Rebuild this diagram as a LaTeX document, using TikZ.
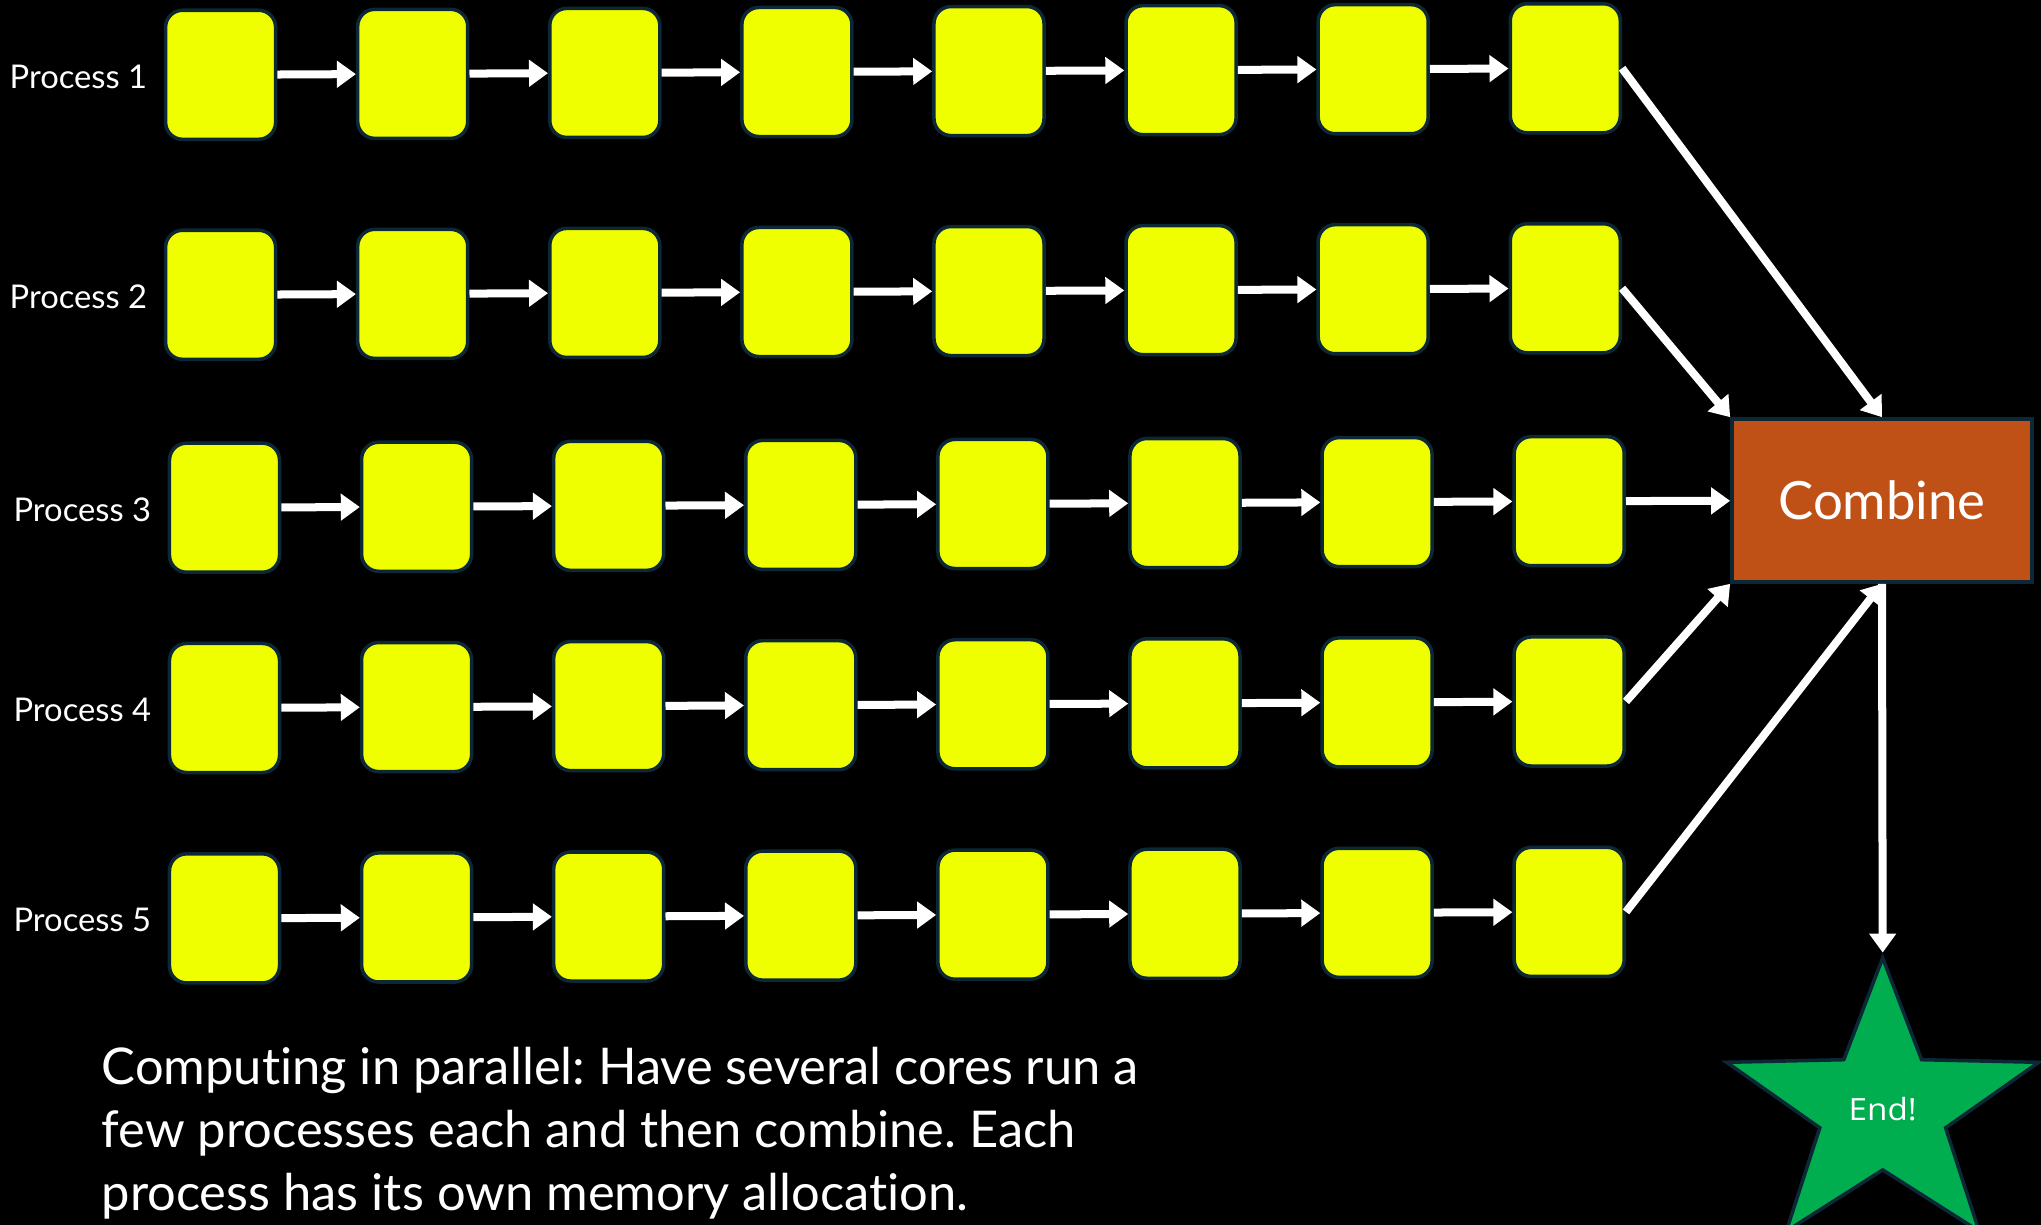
\documentclass[tikz,border=0pt]{standalone}
\usepackage{fontspec}
\setmainfont{Lato}[Ligatures=NoCommon]
\newfontfamily\endfont{Open Sans}
\usetikzlibrary{arrows.meta,shapes.geometric}
\frenchspacing

\definecolor{boxyellow}{RGB}{240,255,0}
\definecolor{boxline}{RGB}{12,40,54}
\definecolor{combineorange}{RGB}{192,81,22}
\definecolor{endgreen}{RGB}{0,173,79}

\tikzset{
  task/.style={draw=boxline,line width=1pt,fill=boxyellow,rounded corners=0.17cm,
    minimum width=1.10cm,minimum height=1.29cm,inner sep=0pt},
  flow/.style={white,line width=0.08cm,-{Triangle[length=0.19cm,width=0.26cm]}},
  proclabel/.style={text=white,font=\fontsize{9.3}{11}\selectfont,anchor=east,inner sep=0pt},
}

\begin{document}
\begin{tikzpicture}[x=0.01cm,y=-0.01cm]
\fill[black] (0,0) rectangle (2041,1225);
\useasboundingbox (0,0) rectangle (2041,1225);

% five rows of eight tasks
\foreach \r/\y/\dx in {1/74.8/0,2/294.8/0,3/507.7/3.9,4/708/3.9,5/918.4/3.9}{
  \foreach \c in {1,...,8}{
    \node[task] (b\r-\c) at ({220.6+192.1*(\c-1)+\dx},{\y-0.93*(\c-1)}) {};
  }
  \foreach \c [evaluate=\c as \n using int(\c+1)] in {1,...,7}{
    \draw[flow] (b\r-\c) -- (b\r-\n);
  }
  \node[proclabel] (lab\r) at ([xshift=-0.16cm,yshift=-0.02cm]b\r-1.west) {Process \r};
}

\node[draw=boxline,line width=1pt,fill=combineorange,minimum width=3.0cm,minimum height=1.63cm,
  text=white,font=\fontsize{15}{18}\selectfont] (combine) at (1882,500.5) {Combine};

\begin{scope}[shift={(1882.7,1109)}]
\node[star,star points=5,star point ratio=2.48,draw=boxline,line width=1pt,fill=endgreen,
  minimum size=3.02cm,inner sep=0pt,xscale=1.086,text=white,
  font=\endfont\fontsize{8.7}{10}\selectfont] (end) at (0,0) {End!};
\end{scope}

\draw[flow] (b1-8.east) -- (combine.north);
\draw[flow] (b2-8.east) -- (combine.north west);
\draw[flow] (b3-8) -- (combine);
\draw[flow] (b4-8.east) -- (combine.south west);
\draw[flow] (b5-8.east) -- (combine.south);
\draw[flow] (combine.south) -- (end.north);

\node[anchor=north west,align=left,text=white,inner sep=0pt,font=\fontsize{14.4}{17.8}\selectfont]
  (caption) at (101,1047) {Computing in parallel: Have several cores run a\\few processes each and then combine. Each\\process has its own memory allocation.};
\end{tikzpicture}
\end{document}
